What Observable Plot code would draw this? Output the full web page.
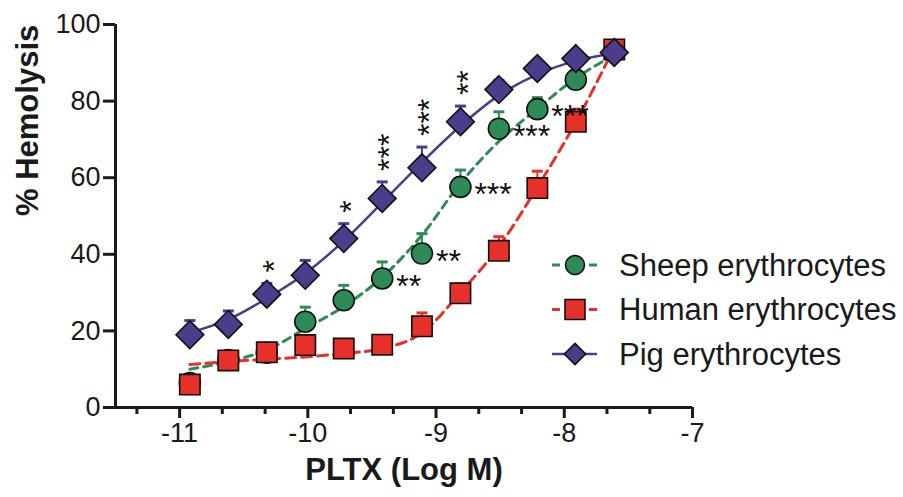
<!DOCTYPE html>
<html><head><meta charset="utf-8">
<script src="https://cdn.jsdelivr.net/npm/d3@7"></script>
<script src="https://cdn.jsdelivr.net/npm/@observablehq/plot@0.6"></script>
<style>
body{margin:0;background:#fff}
#chart{width:903px;height:497px;overflow:hidden}
</style>
</head><body><div id="chart"></div>
<script>
// ---- data ----
const logConc   = [-10.92, -10.62, -10.32, -10.02, -9.72, -9.42, -9.11, -8.81, -8.51, -8.21, -7.91, -7.61];
const sheepMean = [6.4, 12.4, 14.3, 22.4, 28.0, 33.7, 40.2, 57.6, 72.8, 77.9, 85.6, 93.0];
const sheepSem  = [1.0, 1.0, 1.5, 3.8, 3.9, 4.3, 5.2, 4.4, 4.4, 3.0, 2.0, 1.5];
const humanMean = [6.0, 12.3, 14.4, 16.3, 15.4, 16.4, 21.2, 29.8, 40.9, 57.3, 74.6, 93.5];
const humanSem  = [1.0, 1.0, 1.5, 2.0, 1.5, 1.5, 3.5, 2.5, 3.7, 4.4, 3.3, 2.0];
const pigMean   = [19.0, 21.7, 29.6, 34.5, 44.1, 54.6, 62.6, 74.6, 83.0, 88.5, 91.1, 92.7];
const pigSem    = [3.7, 3.5, 2.8, 3.9, 3.9, 4.3, 5.4, 4.1, 2.4, 2.0, 1.5, 1.5];
// fitted curves, read at the same concentrations
const sheepFit  = [10.0, 12.0, 15.0, 20.6, 26.4, 34.0, 45.0, 58.5, 69.5, 78.0, 86.0, 92.0];
const humanFit  = [11.2, 12.0, 12.6, 13.2, 14.1, 15.4, 19.5, 30.0, 42.0, 57.5, 74.5, 94.0];
const pigFit    = [19.5, 23.0, 28.5, 35.0, 43.5, 53.5, 64.0, 73.5, 81.5, 87.0, 90.5, 92.5];
const sigSheep  = ["", "", "", "", "", "**", "**", "***", "***", "***", "", ""];
const sigPig    = ["", "", "*", "", "*", "***", "***", "**", "", "", "", ""];
const seriesNames = ["Sheep erythrocytes", "Human erythrocytes", "Pig erythrocytes"];
const xTicks = [-11, -10, -9, -8, -7];
const xMinorTicks = [-11.333, -10.667, -10.333, -9.667, -9.333, -8.667, -8.333, -7.667, -7.333];
const yTicks = [0, 20, 40, 60, 80, 100];
const xTitle = "PLTX (Log M)";
const yTitle = "% Hemolysis";

// ---- styles ----
const GREEN = "#2e8b57", RED = "#e8302a", PURPLE = "#4b3c8c";
const FONT = "'Liberation Sans', Arial, Helvetica, sans-serif";
const STAR = 32;

const rows = (mean, sem, fit, sig) => logConc.map((x, i) => ({x, y: mean[i], top: mean[i] + sem[i], fit: fit[i], sig: sig ? sig[i] : ""}));
const sheep = rows(sheepMean, sheepSem, sheepFit, sigSheep);
const human = rows(humanMean, humanSem, humanFit, null);
const pig = rows(pigMean, pigSem, pigFit, sigPig);

const capSymbol = {draw(ctx, size) { const r = Math.sqrt(size / Math.PI); ctx.moveTo(-r, 0); ctx.lineTo(r, 0); }};
const errMarks = (data, color) => [
  Plot.ruleX(data, {x: "x", y1: "y", y2: "top", stroke: color, strokeWidth: 2}),
  Plot.dot(data, {x: "x", y: "top", symbol: capSymbol, r: 5.5, stroke: color, strokeWidth: 3})
];

const plot = Plot.plot({
  width: 903, height: 497,
  marginLeft: 115, marginRight: 211, marginTop: 24, marginBottom: 90,
  style: {fontFamily: FONT, fontSize: "27px", color: "#1a1a1a", background: "#fff"},
  x: {domain: [-11.5, -7], axis: null},
  y: {domain: [0, 100], axis: null},
  marks: [
    // fitted curves
    Plot.line(sheep, {x: "x", y: "fit", curve: "monotone-x", stroke: GREEN, strokeWidth: 3, strokeDasharray: "8,6"}),
    Plot.line(human, {x: "x", y: "fit", curve: "monotone-x", stroke: RED, strokeWidth: 3, strokeDasharray: "10,6"}),
    Plot.line(pig, {x: "x", y: "fit", curve: "monotone-x", stroke: PURPLE, strokeWidth: 2.5}),
    // error bars (upper)
    ...errMarks(sheep, GREEN),
    ...errMarks(human, RED),
    ...errMarks(pig, PURPLE),
    // points
    Plot.dot(sheep, {x: "x", y: "y", symbol: "circle", r: 10.5, fill: GREEN, stroke: "#111", strokeWidth: 1.6}),
    Plot.dot(human, {x: "x", y: "y", symbol: "square", r: 11.5, fill: RED, stroke: "#111", strokeWidth: 1.6}),
    Plot.dot(pig, {x: "x", y: "y", symbol: "diamond2", r: 12.5, fill: PURPLE, stroke: "#111", strokeWidth: 1.6}),
    // significance: vertical (rotated) stars above pig points, horizontal right of sheep points
    Plot.text(pig.filter(d => d.sig), {x: "x", y: "top", text: "sig", rotate: -90, textAnchor: "start", lineAnchor: "bottom", dx: 0.57 * STAR, dy: -11, fontSize: STAR, fill: "#111"}),
    Plot.text(sheep.filter(d => d.sig), {x: "x", y: "y", text: "sig", textAnchor: "start", lineAnchor: "bottom", dx: 14, dy: 0.57 * STAR, fontSize: STAR, fill: "#111"}),
    // axes
    Plot.axisY(yTicks, {tickSize: 12, tickPadding: 3, strokeWidth: 3, fontSize: 27, label: null, tickFormat: d => `${d}`}),
    Plot.axisX(xTicks, {tickSize: 11, tickPadding: 4, strokeWidth: 3, fontSize: 27, label: null, tickFormat: d => `${d}`}),
    Plot.axisX(xMinorTicks, {tickSize: 7, strokeWidth: 3, text: null, label: null}),
    Plot.ruleX([-11.5], {strokeWidth: 3, stroke: "#1a1a1a"}),
    Plot.ruleY([0], {strokeWidth: 3, stroke: "#1a1a1a"}),
    // titles
    Plot.text([xTitle], {frameAnchor: "bottom", dy: 72, fontSize: 31, fontWeight: "bold", fill: "#1a1a1a"}),
    Plot.text([yTitle], {frameAnchor: "left", dx: -87, rotate: -90, fontSize: 31, fontWeight: "bold", fill: "#1a1a1a"})
  ]
});
document.getElementById("chart").appendChild(plot);

// ---- legend ----
const svg = d3.select(plot);
const leg = svg.append("g").attr("font-family", FONT).attr("font-size", 31).attr("fill", "#1a1a1a").attr("text-anchor", "start");
const legItems = [
  {name: seriesNames[0], color: GREEN, dash: true, sym: d3.symbolCircle, size: Math.PI * 9.5 * 9.5},
  {name: seriesNames[1], color: RED, dash: true, sym: d3.symbolSquare, size: 20 * 20},
  {name: seriesNames[2], color: PURPLE, dash: false, sym: d3.symbolDiamond2, size: 2 * 12 * 12}
];
legItems.forEach((it, i) => {
  const cy = 265 + i * 44.5;
  const g = leg.append("g").attr("transform", `translate(0,${cy})`);
  g.append("line").attr("x1", 552).attr("x2", 597).attr("y1", 0).attr("y2", 0)
    .attr("stroke", it.color).attr("stroke-width", i === 2 ? 2.5 : 3)
    .attr("stroke-dasharray", it.dash ? "8,29,8" : null);
  g.append("path").attr("transform", "translate(575,0)")
    .attr("d", d3.symbol(it.sym, it.size)())
    .attr("fill", it.color).attr("stroke", "#111").attr("stroke-width", 1.6);
  g.append("text").attr("x", 619).attr("y", 0).attr("dy", "0.35em").attr("text-anchor", "start").text(it.name);
});
</script>
</body></html>
